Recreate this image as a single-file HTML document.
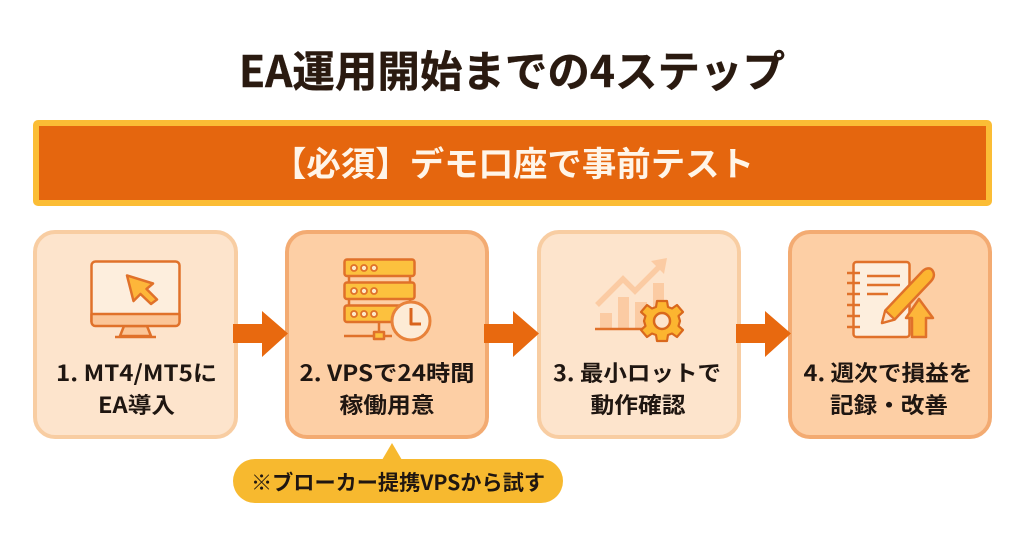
<!DOCTYPE html>
<html lang="ja">
<head>
<meta charset="utf-8">
<title>EA運用開始までの4ステップ</title>
<style>
html,body{margin:0;padding:0;background:#fff;width:1024px;height:541px;overflow:hidden}
svg{display:block}
text{font-family:"Noto Sans CJK JP","Liberation Sans",sans-serif;font-weight:700}
.l{font-size:22px;fill:#1f1611;text-anchor:middle}
</style>
</head>
<body>
<svg width="1024" height="541" viewBox="0 0 1024 541" xmlns="http://www.w3.org/2000/svg">
<rect width="1024" height="541" fill="#fff"/>
<text x="239" y="87" font-size="43" fill="#2a1a10" stroke="#2a1a10" stroke-width=".4" textLength="546" lengthAdjust="spacingAndGlyphs">EA運用開始までの4ステップ</text>

<rect x="36" y="123" width="953" height="80" rx="2" fill="#e5660e" stroke="#fbbd35" stroke-width="6"/>
<text x="272" y="176" font-size="34" fill="#fff5e8" textLength="482" lengthAdjust="spacingAndGlyphs">【必須】デモ口座で事前テスト</text>

<!-- cards -->
<rect x="35" y="232" width="201" height="205" rx="20" fill="#fde4cc" stroke="#f8cda2" stroke-width="4"/>
<rect x="287" y="232" width="200" height="205" rx="20" fill="#fdcfa5" stroke="#f3ab72" stroke-width="4"/>
<rect x="539" y="232" width="200" height="205" rx="20" fill="#fde4cc" stroke="#f8cda2" stroke-width="4"/>
<rect x="790" y="232" width="200" height="205" rx="20" fill="#fdcfa5" stroke="#f3ab72" stroke-width="4"/>

<!-- arrows -->
<g fill="#e8690f">
<polygon points="233,324 262,324 262,311 288,333.500 262,357 262,343 233,343"/>
<polygon points="484,324 513,324 513,311 539,333.500 513,357 513,343 484,343"/>
<polygon points="736,324 765,324 765,311 791,333.500 765,357 765,343 736,343"/>
</g>

<!-- icon 1: monitor -->
<g stroke="#e0712a" stroke-width="2.500" stroke-linejoin="round">
<polygon points="124,326 147,326 151,336 120,336" fill="#fbc597"/>
<rect x="91.500" y="261.500" width="88" height="64" rx="4" fill="#fdeedd"/>
<path d="M91.500 314H179.500V322a4 4 0 0 1-4 4H95.500a4 4 0 0 1-4-4Z" fill="#fbc597"/>
<line x1="115" y1="337" x2="156" y2="337"/>
<polygon points="127,275.500 153,283.500 146.500,289 157,299.500 151,304 140.500,294 133.500,301" fill="#fdb63a"/>
</g>

<!-- icon 2: server -->
<g stroke="#e0712a" stroke-width="2.500" stroke-linejoin="round" fill="#fcc13e">
<line x1="349" y1="275" x2="349" y2="282"/><line x1="410" y1="275" x2="410" y2="282"/>
<line x1="349" y1="299" x2="349" y2="305"/><line x1="410" y1="299" x2="410" y2="305"/>
<rect x="344.500" y="259.500" width="70" height="16.500" rx="2.500"/>
<rect x="344.500" y="282.500" width="70" height="16.500" rx="2.500"/>
<rect x="344.500" y="305.500" width="70" height="16.500" rx="2.500"/>
<g fill="#fde9c8" stroke-width="1.800">
<circle cx="354" cy="268" r="3"/><circle cx="364" cy="268" r="3"/><circle cx="374" cy="268" r="3"/>
<circle cx="354" cy="291" r="3"/><circle cx="364" cy="291" r="3"/><circle cx="374" cy="291" r="3"/>
<circle cx="354" cy="314" r="3"/><circle cx="364" cy="314" r="3"/><circle cx="374" cy="314" r="3"/>
</g>
<line x1="379" y1="322" x2="379" y2="332"/>
<line x1="344" y1="336" x2="392" y2="336"/>
<rect x="374" y="332" width="10" height="7"/>
<circle cx="411" cy="321" r="19" fill="#fdebd5" stroke="#e8823a" stroke-width="3"/>
<path d="M411 308V324H421" fill="none" stroke="#d9641c" stroke-width="3"/>
</g>

<!-- icon 3: chart + gear -->
<g fill="#fbcba3">
<rect x="600" y="313" width="12" height="16"/>
<rect x="618" y="297" width="11" height="32"/>
<rect x="635" y="302" width="12" height="27"/>
<rect x="653" y="283" width="11" height="46"/>
<polyline points="597,305 623,279 635,291 659,267" fill="none" stroke="#fbcba3" stroke-width="5.500"/>
<polygon points="667,258 651,261 664,274"/>
</g>
<line x1="595" y1="329" x2="642" y2="329" stroke="#e0712a" stroke-width="2.500"/>
<g transform="translate(662 321)" stroke="#d9681c" stroke-linejoin="round">
<path fill="#fcb530" stroke-width="2.200" d="M-5-20H5L6-14 10-12.500 15-16 21-9 16.500-5 18 0 16.500 5 21 9 15 16 10 12.500 6 14 5 20H-5L-6 14-10 12.500-15 16-21 9-16.500 5-18 0-16.500-5-21-9-15-16-10-12.500-6-14Z"/>
<circle r="8" fill="#fde4cc" stroke-width="2.500"/>
</g>

<!-- icon 4: notebook -->
<g stroke-linejoin="round">
<rect x="853.500" y="262" width="56" height="75" rx="3" fill="#fdeedd" stroke="#e0712a" stroke-width="2.500"/>
<g stroke="#e0712a" stroke-width="2.500">
<line x1="847" y1="273" x2="860" y2="273"/><line x1="847" y1="283" x2="860" y2="283"/>
<line x1="847" y1="294" x2="860" y2="294"/><line x1="847" y1="305" x2="860" y2="305"/>
<line x1="847" y1="316" x2="860" y2="316"/><line x1="847" y1="327" x2="860" y2="327"/>
<line x1="867" y1="276" x2="900" y2="276"/><line x1="867" y1="285" x2="900" y2="285"/>
<line x1="867" y1="294" x2="888" y2="294"/>
</g>
<path d="M882 323 885.300 310.500 921.300 272.500C925 268 930 267 932.500 270.500 935 274 934 278 930.700 281.500L894.700 319.500Z" fill="#fcb530" stroke="#e0712a" stroke-width="2.500"/>
<polygon points="882,323 885.300,310.500 894.700,319.500" fill="#fde4cc" stroke="#e0712a" stroke-width="2.200"/>
<polygon points="919,299 933,318 926,318 926,337 912,337 912,318 906,318" fill="#fdb63a" stroke="#e0712a" stroke-width="2.500"/>
</g>

<!-- labels -->
<text class="l" x="136.500" y="381" textLength="161" lengthAdjust="spacingAndGlyphs">1. MT4/MT5に</text>
<text class="l" x="136.500" y="413" textLength="77" lengthAdjust="spacingAndGlyphs">EA導入</text>
<text class="l" x="387" y="381" textLength="175" lengthAdjust="spacingAndGlyphs">2. VPSで24時間</text>
<text class="l" x="387" y="413" textLength="95" lengthAdjust="spacingAndGlyphs">稼働用意</text>
<text class="l" x="637" y="381" textLength="168" lengthAdjust="spacingAndGlyphs">3. 最小ロットで</text>
<text class="l" x="638" y="413" textLength="95" lengthAdjust="spacingAndGlyphs">動作確認</text>
<text class="l" x="888" y="381" textLength="169" lengthAdjust="spacingAndGlyphs">4. 週次で損益を</text>
<text class="l" x="889" y="413" textLength="118" lengthAdjust="spacingAndGlyphs">記録・改善</text>

<!-- callout -->
<polygon points="382,460 392,443 402,460" fill="#f7b92f"/>
<rect x="233" y="459" width="330" height="44" rx="22" fill="#f7b92f"/>
<text x="251" y="490" font-size="21" fill="#1f1611" textLength="294" lengthAdjust="spacingAndGlyphs">※ブローカー提携VPSから試す</text>
</svg>
</body>
</html>
